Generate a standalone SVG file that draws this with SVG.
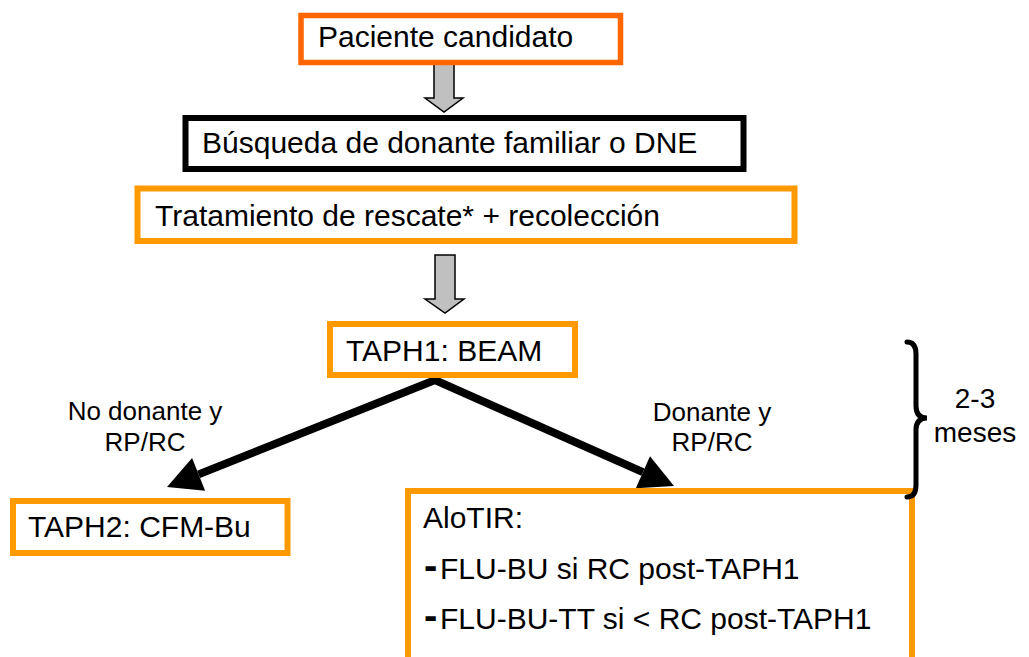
<svg xmlns="http://www.w3.org/2000/svg" width="1029" height="657" viewBox="0 0 1029 657">
<style>
  text { font-family: "Liberation Sans", Arial, sans-serif; fill: #000; }
  .big { font-size: 30px; }
  .dash { font-size: 40px; font-weight: bold; }
  .lbl { font-size: 26px; text-anchor: middle; }
  .box { fill: #fff; }
  .org { stroke: #FF9900; stroke-width: 6; }
  .red { stroke: #FF6600; stroke-width: 5.5; }
  .blk { stroke: #000; stroke-width: 6; }
  .garrow { fill: #C0C0C0; stroke: #000; stroke-width: 1.5; stroke-linejoin: miter; }
  .conn { stroke: #000; stroke-width: 8; fill: none; stroke-linejoin: miter; }
  .head { fill: #000; }
  .brace { stroke: #000; stroke-width: 5; fill: none; stroke-linecap: round; }
</style>
<rect width="1029" height="657" fill="#fff"/>
<g id="connectors">
  <polygon class="garrow" points="434,63 454,63 454,98 463,98 444,112 425,98 434,98"/>
  <polygon class="garrow" points="435,255 455,255 455,299 464,299 445,313 425,299 435,299"/>
  <polyline class="conn" points="198.6,474.4 435,380 642.9,472.2"/>
  <polygon class="head" points="167,487 205.1,490.7 192.1,458.1"/>
  <polygon class="head" points="674,486 635.8,488.2 650,456.2"/>
</g>
<g id="n1">
  <rect class="box red" x="301" y="15.5" width="319.5" height="47"/>
  <text class="big" x="318" y="47">Paciente candidato</text>
</g>
<g id="n2">
  <rect class="box blk" x="185.5" y="118" width="558" height="51"/>
  <text class="big" x="202" y="153">Búsqueda de donante familiar o DNE</text>
</g>
<g id="n3">
  <rect class="box org" x="137.5" y="188.5" width="657" height="52.5"/>
  <text class="big" x="155" y="226">Tratamiento de rescate* + recolección</text>
</g>
<g id="n4">
  <rect class="box org" x="330" y="324" width="245" height="51"/>
  <text class="big" x="346" y="361">TAPH1: BEAM</text>
</g>
<g id="label-left">
  <text class="lbl" x="145" y="420">No donante y</text>
  <text class="lbl" x="145" y="451">RP/RC</text>
</g>
<g id="label-right">
  <text class="lbl" x="712" y="421">Donante y</text>
  <text class="lbl" x="712" y="451">RP/RC</text>
</g>
<g id="n5">
  <rect class="box org" x="13" y="501" width="274.5" height="52"/>
  <text class="big" x="28" y="537">TAPH2: CFM-Bu</text>
</g>
<g id="n6">
  <rect class="box org" x="408" y="491" width="504" height="172"/>
  <text class="big" x="423" y="528">AloTIR:</text>
  <text class="big" x="424" y="579"><tspan class="dash">-</tspan><tspan x="440">FLU-BU si RC post-TAPH1</tspan></text>
  <text class="big" x="424" y="629"><tspan class="dash">-</tspan><tspan x="440">FLU-BU-TT si &lt; RC post-TAPH1</tspan></text>
</g>
<g id="brace">
  <path class="brace" d="M907,342 Q916,342 916,354 L916,406 Q916,418 927,418 Q916,418 916,430 L916,485 Q916,497 907,497"/>
  <text class="lbl" style="font-size:28px" x="975" y="408">2-3</text>
  <text class="lbl" style="font-size:28px" x="975" y="442">meses</text>
</g>
</svg>
